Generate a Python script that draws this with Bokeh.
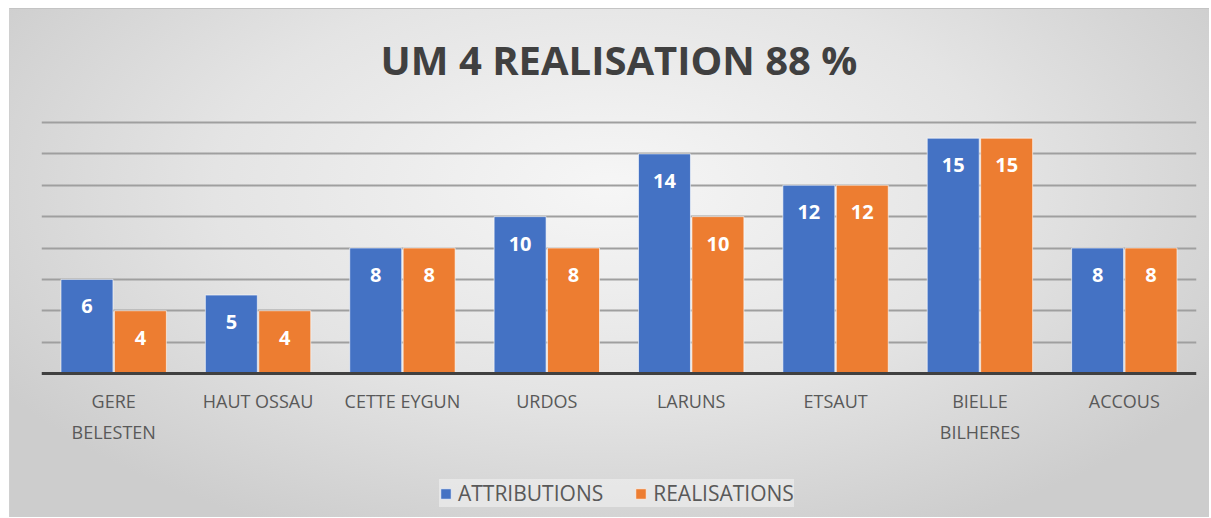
from bokeh.plotting import figure
from bokeh.models import FactorRange, Range1d, FixedTicker, Legend, LegendItem, ColumnDataSource, Span
from bokeh.transform import dodge
from bokeh.core.properties import value
from bokeh.embed import file_html
from bokeh.resources import INLINE

categories = ["GERE\nBELESTEN", "HAUT OSSAU", "CETTE EYGUN", "URDOS", "LARUNS", "ETSAUT", "BIELLE\nBILHERES", "ACCOUS"]
attributions = [6, 5, 8, 10, 14, 12, 15, 8]
realisations = [4, 4, 8, 8, 10, 12, 15, 8]
y_ticks = [2, 4, 6, 8, 10, 12, 14, 16]
title_text = "UM 4 REALISATION 88 %"

BLUE = "#4472C4"
ORANGE = "#ED7D31"
FONT = "Open Sans"

# layout geometry (pixels from figure top); the frame spans the whole figure height
Y_MAX = 16
FIG_H = 509
TOP_GRID_PX = 113      # where value 16 sits
AXIS_PX = 364          # where value 0 sits
PPU = (AXIS_PX - TOP_GRID_PX) / Y_MAX
Y_MIN = -(FIG_H - AXIS_PX) / PPU
Y_TOP = Y_MAX + TOP_GRID_PX / PPU

src = ColumnDataSource(dict(
    cat=categories,
    att=attributions,
    rea=realisations,
    att_txt=[str(v) for v in attributions],
    rea_txt=[str(v) for v in realisations],
))

p = figure(
    x_range=FactorRange(*categories), y_range=Range1d(Y_MIN, Y_TOP),
    width=1200, height=FIG_H, output_backend="svg", toolbar_location=None,
    min_border_left=31, min_border_right=14, min_border_top=0, min_border_bottom=0,
)
p.styles = {"background": "radial-gradient(ellipse 60% 75% at 50% 35%, #f6f6f6 0%, #e4e4e4 55%, #cdcdcd 100%)",
            "border-top": "1px solid #c4c4c4", "border-left": "1px solid #d0d0d0",
            "margin-left": "9px", "margin-top": "8px"}
p.background_fill_alpha = 0
p.border_fill_alpha = 0
p.outline_line_color = None

p.axis.visible = False
p.ygrid.ticker = FixedTicker(ticks=y_ticks)
p.ygrid.grid_line_color = "#9f9f9f"
p.ygrid.grid_line_width = 2
p.xgrid.grid_line_color = None

# title, centred over the category axis
p.text(x=[len(categories) / 2], y=[Y_MAX], text=[title_text],
       text_font=value(FONT), text_font_size="40px", text_font_style="bold",
       text_color="#404040", text_align="center", text_baseline="alphabetic", y_offset=-63)

r1 = p.vbar(x=dodge("cat", -0.185, range=p.x_range), top="att", width=0.36, source=src,
            fill_color=BLUE, line_color="#ffffff", line_alpha=0.6, line_width=1)
r2 = p.vbar(x=dodge("cat", 0.185, range=p.x_range), top="rea", width=0.36, source=src,
            fill_color=ORANGE, line_color="#ffffff", line_alpha=0.6, line_width=1)

for col, off in (("att", -0.185), ("rea", 0.185)):
    p.text(x=dodge("cat", off, range=p.x_range), y=col, text=col + "_txt", source=src,
           text_font=value(FONT), text_font_size="20px", text_font_style="bold",
           text_color="white", text_align="center", text_baseline="middle", y_offset=27)

p.add_layout(Span(location=0, dimension="width", line_color="#404040", line_width=3))

# category labels under the axis
p.text(x="cat", y=0, text="cat", source=src,
       text_font=value(FONT), text_font_size="18px", text_color="#595959",
       text_align="center", text_baseline="top", text_line_height=1.32, y_offset=15)

legend = Legend(items=[LegendItem(label="ATTRIBUTIONS", renderers=[r1]),
                       LegendItem(label="REALISATIONS", renderers=[r2])],
                orientation="horizontal", location=(398, 11))
legend.label_text_font = FONT
legend.label_text_font_size = "21px"
legend.label_text_color = "#595959"
legend.glyph_width = 13
legend.glyph_height = 13
legend.label_standoff = 6
legend.spacing = 31
legend.padding = 11
legend.margin = 0
legend.background_fill_color = "#f4f4f4"
legend.background_fill_alpha = 0.55
legend.border_line_color = None
p.add_layout(legend, "center")

open("out.html", "w").write(file_html(p, INLINE))
